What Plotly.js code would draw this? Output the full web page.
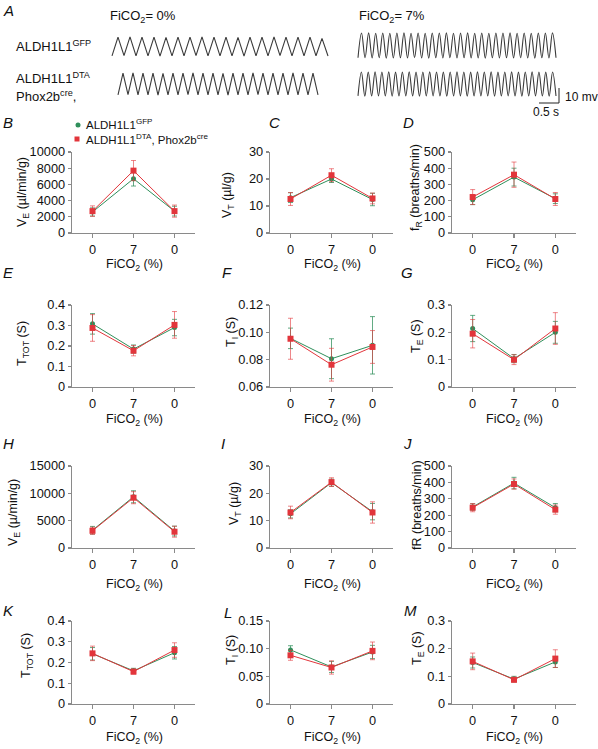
<!DOCTYPE html>
<html><head><meta charset="utf-8">
<script src="https://cdn.plot.ly/plotly-3.0.1.min.js"></script>
<style>html,body{margin:0;padding:0;background:#fff}#chart{width:598px;height:749px}</style>
</head><body><div id="chart"></div>
<script>
// ---------- DATA ----------
const xTickLabels = ['0', '7', '0'];
const xTitle = 'FiCO<sub>2</sub> (%)';
const seriesNames = ['ALDH1L1<sup>GFP</sup>', 'ALDH1L1<sup>DTA</sup>, Phox2b<sup>cre</sup>'];

// Panel A traces (mV around each trace's baseline, one value per peak/trough)
const gfp0Wave = [-6.2,6.3,-6.1,6.4,-6.3,6.2,-6.2,6.3,-6.4,6.1,-6.2,6.3,-6.3,6.2,-6.1,6.4,-6.2,6.3,-6.3,6.2,-6.2,6.1,-6.4,6.3,-6.2,6.2,-6.3,6.4,-6.1,6.3,-6.2,6.2,-6.3,6.3,-6.2,5.4,-6.3];
const gfp7Wave = [-8.2,8.3,-8.1,8.4,-8.3,8.2,-8.2,8.3,-8.4,8.2,-8.3,8.3,-8.2,8.4,-8.3,8.2,-8.1,8.3,-8.3,8.2,-8.4,8.3,-8.2,8.3,-8.3,8.4,-8.2,8.2,-8.3,8.3,-8.2,8.4,-8.3,8.2,-8.3,8.3,-8.4,8.2,-8.2,8.3,-8.3,8.3,-8.2,8.4,-8.3,8.2,-8.2,8.3,-8.3,8.2,-8.4,8.3,-8.2,8.3,-8.3,8.4,-8.2];
const dta0Wave = [-7.2,7.3,-7.1,7.4,-7.3,7.2,-7.2,7.3,-7.4,7.1,-7.2,7.3,-7.3,7.2,-7.1,7.4,-7.2,7.3,-7.3,7.2,-7.2,7.1,-7.4,7.3,-7.2,7.2,-7.3,7.4,-7.1,7.3,-7.2,7.2,-7.3,7.3,-7.2,7.4,-7.3,7.2,-7.2,7.3,-7.3];
const dta7Wave = [-7.9,8.0,-8.1,7.9,-8.0,8.1,-7.9,8.0,-8.0,8.1,-8.1,7.9,-8.0,8.0,-7.9,8.1,-8.0,7.9,-8.1,8.0,-8.0,8.1,-7.9,8.0,-8.0,7.9,-8.1,8.0,-8.0,8.1,-7.9,8.0,-8.1,7.9,-8.0,8.1,-7.9,8.0,-8.0,8.1,-8.1,7.9,-8.0,8.0,-7.9,8.1,-8.0,7.9,-8.1,8.0,-8.0,8.1,-7.9,8.0,-8.0,7.9,-8.1,8.0,-8.0];
const scaleBarSec = 0.5;
const scaleBarMv = 10;

// B: VE
const bGfp = [2600, 6700, 2700];   const bGfpErr = [500, 900, 600];
const bDta = [2700, 7700, 2700];   const bDtaErr = [650, 1250, 750];
// C: VT
const cGfp = [13.1, 20.0, 12.4];   const cGfpErr = [1.8, 1.3, 2.3];
const cDta = [12.6, 21.4, 12.8];   const cDtaErr = [2.4, 2.4, 2.0];
// D: fR
const dGfp = [205, 345, 212];      const dGfpErr = [30, 55, 30];
const dDta = [222, 360, 210];      const dDtaErr = [46, 78, 40];
// E: TTOT
const eGfp = [0.308, 0.185, 0.290]; const eGfpErr = [0.050, 0.020, 0.040];
const eDta = [0.288, 0.177, 0.303]; const eDtaErr = [0.065, 0.025, 0.065];
// F: TI
const fGfp = [0.0956, 0.0807, 0.0905]; const fGfpErr = [0.0075, 0.0146, 0.0210];
const fDta = [0.0953, 0.0763, 0.0893]; const fDtaErr = [0.0150, 0.0120, 0.0120];
// G: TE
const gGfp = [0.214, 0.104, 0.200]; const gGfpErr = [0.048, 0.015, 0.040];
const gDta = [0.195, 0.100, 0.214]; const gDtaErr = [0.052, 0.018, 0.058];
// H: VE
const hGfp = [3250, 9370, 3100];   const hGfpErr = [700, 1100, 900];
const hDta = [3150, 9200, 2980];   const hDtaErr = [650, 1100, 1000];
// I: VT
const iGfp = [12.5, 23.9, 13.3];   const iGfpErr = [1.5, 1.3, 3.0];
const iDta = [13.0, 24.1, 13.0];   const iDtaErr = [2.3, 1.6, 3.9];
// J: fR
const jGfp = [250, 396, 246];      const jGfpErr = [20, 35, 25];
const jDta = [246, 390, 234];      const jDtaErr = [25, 31, 28];
// K: TTOT
const kGfp = [0.242, 0.160, 0.247]; const kGfpErr = [0.030, 0.012, 0.030];
const kDta = [0.244, 0.156, 0.260]; const kDtaErr = [0.035, 0.012, 0.035];
// L: TI
const lGfp = [0.0978, 0.0670, 0.0940]; const lGfpErr = [0.0075, 0.0100, 0.0120];
const lDta = [0.0880, 0.0660, 0.0960]; const lDtaErr = [0.0090, 0.0120, 0.0160];
// M: TE
const mGfp = [0.150, 0.0900, 0.152]; const mGfpErr = [0.020, 0.010, 0.020];
const mDta = [0.154, 0.0876, 0.164]; const mDtaErr = [0.030, 0.008, 0.032];

const lTickVals = [0, 0.05, 0.10, 0.15];
const lTickText = ['0', '0.05', '0.10', '0.15'];

// ---------- LAYOUT HELPERS ----------
const W = 598, H = 749;
const fx = p => p / W;
const fy = p => 1 - p / H;
const FONT = 'Liberation Sans, Arial, Helvetica, sans-serif';
const GREEN = '#2f8f5b', RED = '#e2353b';
const GREEN_ERR = 'rgba(47,143,91,0.75)', RED_ERR = 'rgba(226,53,59,0.6)';
const AXIS_COLOR = '#8a8a8a';

const cols = [{l: 72, r: 195, cx: 134}, {l: 270, r: 393, cx: 332}, {l: 452, r: 576, cx: 514}];
const rows = [{t: 152, b: 233, xt: 265}, {t: 305, b: 387, xt: 420}, {t: 466, b: 548, xt: 585}, {t: 621, b: 704, xt: 738}];

const panels = [
  {letter:'B', title:'V<sub>E</sub> (µl/min/g)', g:bGfp, ge:bGfpErr, d:bDta, de:bDtaErr, range:[0,10000], dtick:2000, fmt:'d', r:0, c:0, tx:23, ty:192, lx:8, ly:123},
  {letter:'C', title:'V<sub>T</sub> (µl/g)', g:cGfp, ge:cGfpErr, d:cDta, de:cDtaErr, range:[0,30], dtick:10, r:0, c:1, tx:228, ty:195, lx:274, ly:123},
  {letter:'D', title:'f<sub>R</sub> (breaths/min)', g:dGfp, ge:dGfpErr, d:dDta, de:dDtaErr, range:[0,500], dtick:100, r:0, c:2, tx:416, ty:188, lx:408, ly:123},
  {letter:'E', title:'T<sub>TOT</sub> (S)', g:eGfp, ge:eGfpErr, d:eDta, de:eDtaErr, range:[0,0.4], dtick:0.1, r:1, c:0, tx:23, ty:344, lx:8, ly:272},
  {letter:'F', title:'T<sub>I</sub> (S)', g:fGfp, ge:fGfpErr, d:fDta, de:fDtaErr, range:[0.06,0.12], dtick:0.02, fmt:'.2f', r:1, c:1, tx:232, ty:332, lx:227, ly:273},
  {letter:'G', title:'T<sub>E</sub> (S)', g:gGfp, ge:gGfpErr, d:gDta, de:gDtaErr, range:[0,0.3], dtick:0.1, r:1, c:2, tx:417, ty:336, lx:407, ly:272},
  {letter:'H', title:'V<sub>E</sub> (µ/min/g)', g:hGfp, ge:hGfpErr, d:hDta, de:hDtaErr, range:[0,15000], dtick:5000, fmt:'d', r:2, c:0, tx:14, ty:513, lx:8, ly:443},
  {letter:'I', title:'V<sub>T</sub> (µ/g)', g:iGfp, ge:iGfpErr, d:iDta, de:iDtaErr, range:[0,30], dtick:10, r:2, c:1, tx:235, ty:504, lx:223, ly:443},
  {letter:'J', title:'fR (breaths/min)', g:jGfp, ge:jGfpErr, d:jDta, de:jDtaErr, range:[0,500], dtick:100, r:2, c:2, tx:417, ty:505, lx:407, ly:443},
  {letter:'K', title:'T<sub>TOT</sub> (S)', g:kGfp, ge:kGfpErr, d:kDta, de:kDtaErr, range:[0,0.4], dtick:0.1, r:3, c:0, tx:27, ty:656, lx:8, ly:610},
  {letter:'L', title:'T<sub>I</sub> (S)', g:lGfp, ge:lGfpErr, d:lDta, de:lDtaErr, range:[0,0.15], tickvals:lTickVals, ticktext:lTickText, r:3, c:1, tx:232, ty:650, lx:228, ly:612},
  {letter:'M', title:'T<sub>E</sub> (S)', g:mGfp, ge:mGfpErr, d:mDta, de:mDtaErr, range:[0,0.3], dtick:0.1, r:3, c:2, tx:418, ty:648, lx:410, ly:610}
];

const data = [];
const layout = {
  width: W, height: H,
  margin: {l: 0, r: 0, t: 0, b: 0},
  paper_bgcolor: '#fff', plot_bgcolor: 'rgba(0,0,0,0)',
  showlegend: false,
  font: {family: FONT, size: 13, color: '#111'},
  annotations: [], shapes: []
};

const xCats = [0, 1, 2];
panels.forEach((p, i) => {
  const n = i + 1;
  const xa = 'x' + (n === 1 ? '' : n), ya = 'y' + (n === 1 ? '' : n);
  const col = cols[p.c], row = rows[p.r];
  const axBase = {
    showline: true, linecolor: AXIS_COLOR, linewidth: 1.3,
    ticks: 'outside', ticklen: 3, tickwidth: 1.2, tickcolor: AXIS_COLOR,
    tickfont: {family: FONT, size: 12.8, color: '#111'},
    showgrid: false, zeroline: false, fixedrange: true
  };
  layout['xaxis' + (n === 1 ? '' : n)] = Object.assign({}, axBase, {
    domain: [fx(col.l), fx(col.r)], range: [-0.5, 2.5], anchor: ya,
    tickmode: 'array', tickvals: xCats, ticktext: xTickLabels, ticklen: 4
  });
  const yax = Object.assign({}, axBase, {
    domain: [fy(row.b), fy(row.t)], range: p.range, anchor: xa
  });
  if (p.tickvals) { yax.tickmode = 'array'; yax.tickvals = p.tickvals; yax.ticktext = p.ticktext; }
  else { yax.dtick = p.dtick; yax.tick0 = 0; }
  if (p.fmt) yax.tickformat = p.fmt;
  layout['yaxis' + (n === 1 ? '' : n)] = yax;

  data.push({
    type: 'scatter', mode: 'lines+markers', x: xCats, y: p.g, xaxis: xa, yaxis: ya,
    name: seriesNames[0], cliponaxis: false,
    line: {color: GREEN, width: 1},
    marker: {symbol: 'circle', size: 5, color: GREEN},
    error_y: {type: 'data', array: p.ge, visible: true, color: GREEN_ERR, thickness: 1, width: 2.5}
  });
  data.push({
    type: 'scatter', mode: 'lines+markers', x: xCats, y: p.d, xaxis: xa, yaxis: ya,
    name: seriesNames[1], cliponaxis: false,
    line: {color: RED, width: 1},
    marker: {symbol: 'square', size: 6, color: RED},
    error_y: {type: 'data', array: p.de, visible: true, color: RED_ERR, thickness: 1, width: 2.5}
  });

  layout.annotations.push({xref: 'paper', yref: 'paper', x: fx(p.lx), y: fy(p.ly),
    xanchor: 'center', yanchor: 'middle', showarrow: false,
    text: '<i>' + p.letter + '</i>', font: {family: FONT, size: 15, color: '#111'}});
  layout.annotations.push({xref: 'paper', yref: 'paper', x: fx(p.tx), y: fy(p.ty),
    xanchor: 'center', yanchor: 'middle', showarrow: false, textangle: -90,
    text: p.title, font: {family: FONT, size: 12.5, color: '#111'}});
  layout.annotations.push({xref: 'paper', yref: 'paper', x: fx(col.cx), y: fy(row.xt),
    xanchor: 'center', yanchor: 'middle', showarrow: false,
    text: xTitle, font: {family: FONT, size: 12.5, color: '#111'}});
});

// legend (panel B)
layout.shapes.push({type: 'circle', xref: 'paper', yref: 'paper',
  x0: fx(75.5), x1: fx(80.5), y0: fy(127.5), y1: fy(122.5), fillcolor: GREEN, line: {width: 0}});
layout.shapes.push({type: 'rect', xref: 'paper', yref: 'paper',
  x0: fx(74.5), x1: fx(79.5), y0: fy(141.5), y1: fy(136.5), fillcolor: RED, line: {width: 0}});
layout.annotations.push({xref: 'paper', yref: 'paper', x: fx(84), y: fy(124), xanchor: 'left', yanchor: 'middle',
  showarrow: false, text: seriesNames[0], font: {family: FONT, size: 11.5, color: '#111'}});
layout.annotations.push({xref: 'paper', yref: 'paper', x: fx(84), y: fy(139), xanchor: 'left', yanchor: 'middle',
  showarrow: false, text: seriesNames[1], font: {family: FONT, size: 11.5, color: '#111'}});

// ---------- PANEL A ----------
const PX_PER_S = 40, PX_PER_MV = 1.5, A_H = 110;
const tOf = px => px / PX_PER_S;
const vOf = py => (A_H - py) / PX_PER_MV;
layout.xaxis13 = {domain: [0, 1], range: [0, W / PX_PER_S], visible: false, fixedrange: true, anchor: 'y13'};
layout.yaxis13 = {domain: [fy(A_H), 1], range: [0, A_H / PX_PER_MV], visible: false, fixedrange: true, anchor: 'x13'};

const waves = [
  {y: gfp0Wave, x0: 112, x1: 328, cy: 46.5, shape: 'linear'},
  {y: gfp7Wave, x0: 358, x1: 556, cy: 45.5, shape: 'spline'},
  {y: dta0Wave, x0: 118, x1: 318, cy: 84, shape: 'linear'},
  {y: dta7Wave, x0: 358, x1: 556, cy: 84, shape: 'spline'}
];
waves.forEach(w => {
  const t0 = tOf(w.x0), t1 = tOf(w.x1), base = vOf(w.cy);
  const step = (t1 - t0) / (w.y.length - 1);
  data.push({
    type: 'scatter', mode: 'lines', xaxis: 'x13', yaxis: 'y13', hoverinfo: 'skip',
    x: w.y.map((_, k) => t0 + k * step), y: w.y.map(v => base + v),
    line: {color: '#3a3a3a', width: 1.1, shape: w.shape, smoothing: 1}
  });
});
const sbT = tOf(559), sbV = vOf(103);
data.push({
  type: 'scatter', mode: 'lines', xaxis: 'x13', yaxis: 'y13', hoverinfo: 'skip',
  x: [sbT - scaleBarSec, sbT, sbT], y: [sbV, sbV, sbV + scaleBarMv],
  line: {color: '#222', width: 1}
});

const topText = [
  {t: '<i>A</i>', x: 8, y: 10, a: 'center', s: 15},
  {t: 'FiCO<sub>2</sub>= 0%', x: 108, y: 16, a: 'left', s: 13},
  {t: 'FiCO<sub>2</sub>= 7%', x: 357, y: 16, a: 'left', s: 13},
  {t: 'ALDH1L1<sup>GFP</sup>', x: 14, y: 46, a: 'left', s: 13},
  {t: 'ALDH1L1<sup>DTA</sup>', x: 14, y: 78, a: 'left', s: 13},
  {t: 'Phox2b<sup>cre</sup>,', x: 14, y: 96, a: 'left', s: 13},
  {t: '10 mv', x: 563, y: 97, a: 'left', s: 12},
  {t: '0.5 s', x: 531, y: 112, a: 'left', s: 12}
];
topText.forEach(o => layout.annotations.push({xref: 'paper', yref: 'paper', x: fx(o.x), y: fy(o.y),
  xanchor: o.a, yanchor: 'middle', showarrow: false, text: o.t, font: {family: FONT, size: o.s, color: '#111'}}));

Plotly.newPlot('chart', data, layout, {staticPlot: true, displayModeBar: false});
</script>
</body></html>
